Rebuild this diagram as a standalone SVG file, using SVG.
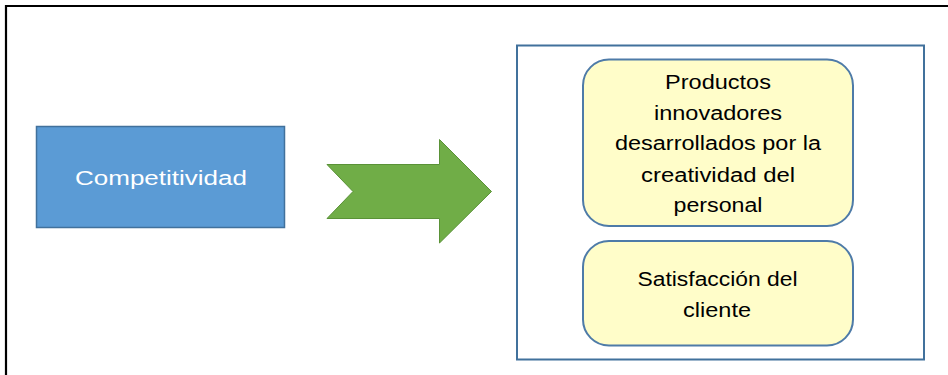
<svg xmlns="http://www.w3.org/2000/svg" width="948" height="375" viewBox="0 0 948 375">
<style>
text{font-family:"Liberation Sans",Arial,sans-serif;font-size:20px;text-anchor:middle}
.y{fill:#FFFDC9;stroke:#4E7BA8;stroke-width:2}
.d{fill:#000}
</style>
<rect width="948" height="375" fill="#fff"/>
<path d="M6,375 V6 H948" fill="none" stroke="#000" stroke-width="2.2"/>
<g id="competitividad">
<rect x="36.5" y="126.5" width="248" height="101" fill="#5B9BD5" stroke="#41719C" stroke-width="1.5"/>
<text x="161" y="185" fill="#fff" textLength="172" lengthAdjust="spacingAndGlyphs">Competitividad</text>
</g>
<g id="connectors">
<polygon points="327,164.5 439.5,164.5 439.5,139.5 491.5,191.5 439.5,243 439.5,218.5 327,218.5 353,191.5" fill="#70AD47" stroke="#5A9237" stroke-width="1"/>
</g>
<g id="contenedor">
<rect x="517" y="45.5" width="407" height="314" fill="#fff" stroke="#41719C" stroke-width="2"/>
</g>
<g id="productos">
<rect x="583" y="59.5" width="270" height="166.5" rx="26" class="y"/>
<text class="d" x="718" y="88.5" textLength="106" lengthAdjust="spacingAndGlyphs">Productos</text>
<text class="d" x="718" y="119.5" textLength="128" lengthAdjust="spacingAndGlyphs">innovadores</text>
<text class="d" x="718" y="150" textLength="206" lengthAdjust="spacingAndGlyphs">desarrollados por la</text>
<text class="d" x="718" y="181.5" textLength="154" lengthAdjust="spacingAndGlyphs">creatividad del</text>
<text class="d" x="718" y="211.5" textLength="89" lengthAdjust="spacingAndGlyphs">personal</text>
</g>
<g id="satisfaccion">
<rect x="583" y="241" width="270" height="104.5" rx="26" class="y"/>
<text class="d" x="717.5" y="286" textLength="160" lengthAdjust="spacingAndGlyphs">Satisfacción del</text>
<text class="d" x="717" y="316.5" textLength="68" lengthAdjust="spacingAndGlyphs">cliente</text>
</g>
</svg>
